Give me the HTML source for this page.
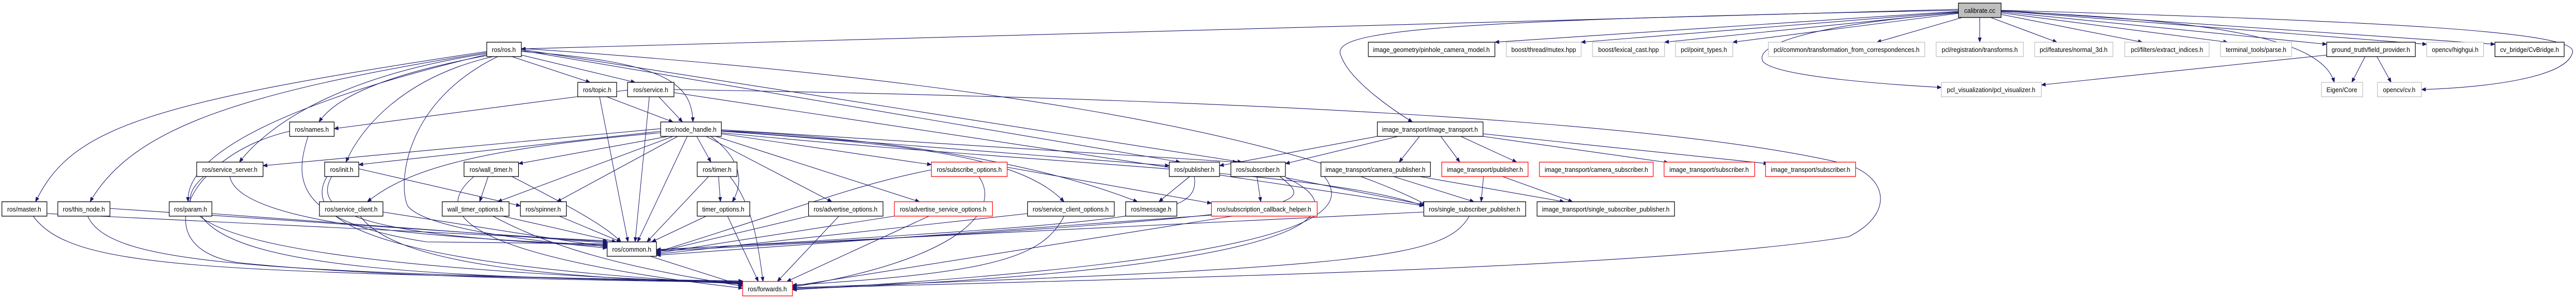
<!DOCTYPE html>
<html><head><meta charset="utf-8"><style>
html,body{margin:0;padding:0;background:#fff;overflow:hidden;width:100%;height:100%;}
svg{display:block;width:100vw;height:100vh;}
text{font-family:"Liberation Sans",sans-serif;font-size:13px;fill:#000;text-anchor:middle;}
.e{fill:none;stroke:#191970;stroke-width:1.1;marker-end:url(#a);}
.b{fill:#fff;stroke:#000;stroke-width:1.3;}
.g{fill:#fff;stroke:#bfbfbf;stroke-width:1.3;}
.r{fill:#fff;stroke:#ff0000;stroke-width:1.3;}
</style></head><body>
<svg viewBox="0 0 5435 581" preserveAspectRatio="none" xmlns="http://www.w3.org/2000/svg">
<defs><marker id="a" markerWidth="10" markerHeight="8" refX="9" refY="4" orient="auto" markerUnits="userSpaceOnUse"><path d="M0,0 L10,4 L0,8 z" fill="#191970"/></marker></defs>
<g>
<path class="e" d="M4132,18 C3000,40 2000,70 1100,95"/>
<path class="e" d="M4132,22 L3154,82"/>
<path class="e" d="M4132,23 L3336,82"/>
<path class="e" d="M4132,24 L3512,82"/>
<path class="e" d="M4132,26 L3656,82"/>
<path class="e" d="M4140,34 L3960,82"/>
<path class="e" d="M4177,34 L4177,82"/>
<path class="e" d="M4200,34 L4340,82"/>
<path class="e" d="M4222,28 L4520,82"/>
<path class="e" d="M4222,25 L4700,82"/>
<path class="e" d="M4222,23 L4909,86"/>
<path class="e" d="M4222,21 L5120,86"/>
<path class="e" d="M4222,20 L5264,86"/>
<path class="e" d="M4132,20 C3000,40 2800,60 2830,110 C2850,160 2950,220 2980,237"/>
<path class="e" d="M4132,25 C3800,50 3700,90 3720,120 C3750,150 4000,165 4096,170"/>
<path class="e" d="M4222,22 C4700,40 4900,80 4925,160"/>
<path class="e" d="M4222,20 C5000,40 5430,60 5428,100 C5420,150 5250,170 5109,174"/>
<path class="e" d="M4909,107 L4307,165"/>
<path class="e" d="M4990,110 L4962,160"/>
<path class="e" d="M5015,110 L5045,160"/>

<path class="e" d="M1027,100 C300,200 150,250 75,392"/>
<path class="e" d="M1027,102 C500,180 280,250 190,392"/>
<path class="e" d="M1027,106 C600,200 390,300 397,392"/>
<path class="e" d="M1027,104 C700,150 560,250 505,315"/>
<path class="e" d="M1027,108 C780,150 700,200 673,237"/>
<path class="e" d="M1040,110 C850,150 760,250 730,315"/>
<path class="e" d="M1050,110 C850,200 840,360 860,400 C900,450 1200,475 1281,482"/>
<path class="e" d="M1080,110 L1245,160"/>
<path class="e" d="M1100,107 L1340,160"/>
<path class="e" d="M1100,100 C1400,120 1460,160 1462,237"/>
<path class="e" d="M1100,98 L2490,315"/>
<path class="e" d="M1100,96 L2620,315"/>
<path class="e" d="M1100,94 C2000,150 2700,250 3010,398"/>
<path class="e" d="M1324,175 L705,250"/>
<path class="e" d="M1390,188 L1440,237"/>
<path class="e" d="M1370,188 L1340,470"/>
<path class="e" d="M1422,174 C2500,190 3500,230 3900,320 C3990,350 3990,420 3900,460 C3500,520 2500,540 1672,560"/>
<path class="e" d="M1422,180 L3004,400"/>
<path class="e" d="M1280,188 L1420,237"/>
<path class="e" d="M1265,188 L1325,470"/>

<path class="e" d="M1394,250 L555,322"/>
<path class="e" d="M1394,255 L757,320"/>
<path class="e" d="M1410,265 L1094,318"/>
<path class="e" d="M1394,258 C1000,290 860,330 775,392"/>
<path class="e" d="M1420,265 L1050,392"/>
<path class="e" d="M1430,265 L1175,392"/>
<path class="e" d="M1450,265 L1345,470"/>
<path class="e" d="M1470,265 L1500,315"/>
<path class="e" d="M1500,265 C1580,320 1560,370 1545,392"/>
<path class="e" d="M1490,265 L1755,392"/>
<path class="e" d="M1510,265 L1940,392"/>
<path class="e" d="M1522,260 L1965,320"/>
<path class="e" d="M1522,255 C1900,280 2150,300 2245,392"/>
<path class="e" d="M1522,254 C1900,270 2200,320 2400,392"/>
<path class="e" d="M1522,254 L2467,322"/>
<path class="e" d="M1522,252 L2610,315"/>
<path class="e" d="M1522,258 C2200,320 2780,330 3004,400"/>

<path class="e" d="M2906,265 L2573,322"/>
<path class="e" d="M2950,265 L2712,318"/>
<path class="e" d="M2995,265 L2952,315"/>
<path class="e" d="M3040,265 L3080,315"/>
<path class="e" d="M3082,265 L3200,315"/>
<path class="e" d="M3129,265 L3520,316"/>
<path class="e" d="M3129,260 L3730,318"/>
<path class="e" d="M2940,343 L3110,392"/>
<path class="e" d="M2995,343 L3300,392"/>
<path class="e" d="M3130,343 L3125,392"/>
<path class="e" d="M3170,343 L3318,392"/>
<path class="e" d="M2712,345 L3004,398"/>
<path class="e" d="M2787,335 C2850,400 2860,500 1672,563"/>
<path class="e" d="M2510,343 L2445,392"/>
<path class="e" d="M2520,343 C2530,420 2450,430 1385,486"/>
<path class="e" d="M2652,343 L2660,392"/>
<path class="e" d="M2700,343 C2780,400 2800,420 1385,488"/>
<path class="e" d="M2712,345 C2850,400 2860,520 1672,562"/>
<path class="e" d="M2125,325 L2556,395"/>
<path class="e" d="M1965,330 C1800,360 1700,400 1385,490"/>
<path class="e" d="M2065,343 C2110,400 2050,500 1672,558"/>
<path class="e" d="M1516,343 L1520,392"/>
<path class="e" d="M1495,343 L1365,470"/>
<path class="e" d="M1540,343 C1590,400 1600,480 1610,547"/>
<path class="e" d="M1490,420 L1375,470"/>
<path class="e" d="M1535,420 L1600,547"/>
<path class="e" d="M1706,420 L1385,490"/>
<path class="e" d="M1770,420 L1640,547"/>
<path class="e" d="M1887,420 L1385,492"/>
<path class="e" d="M1960,420 L1660,547"/>
<path class="e" d="M2168,415 L1385,494"/>
<path class="e" d="M2245,420 C2200,500 2100,530 1672,554"/>
<path class="e" d="M2556,418 L1385,496"/>
<path class="e" d="M2600,420 L1672,556"/>
<path class="e" d="M3004,412 L1385,485"/>
<path class="e" d="M3100,420 C3050,500 2900,520 1672,559"/>
<path class="e" d="M1372,498 L1567,555"/>
<path class="e" d="M1030,343 L1012,392"/>
<path class="e" d="M1080,343 C1200,400 1280,440 1310,470"/>
<path class="e" d="M1000,343 C900,420 1000,500 1567,560"/>
<path class="e" d="M1060,420 L1300,470"/>
<path class="e" d="M1040,420 C1200,500 1400,530 1567,556"/>
<path class="e" d="M1180,420 L1310,470"/>
<path class="e" d="M757,328 L1098,400"/>
<path class="e" d="M700,343 C650,420 800,460 1281,478"/>
<path class="e" d="M690,343 C620,450 900,520 1567,552"/>
<path class="e" d="M808,412 L1281,480"/>
<path class="e" d="M760,420 C840,520 1200,540 1567,551"/>
<path class="e" d="M485,343 C500,420 800,460 1281,476"/>
<path class="e" d="M430,343 C300,450 600,520 1567,550"/>
<path class="e" d="M650,265 C620,350 620,430 900,470 L1281,474"/>
<path class="e" d="M611,255 C400,300 300,480 500,510 C800,540 1300,545 1567,549"/>
<path class="e" d="M447,415 L1281,472"/>
<path class="e" d="M425,420 C500,520 900,540 1567,548"/>
<path class="e" d="M232,405 L1281,470"/>
<path class="e" d="M185,420 C230,510 500,530 1567,547"/>
<path class="e" d="M99,415 L1281,468"/>
<path class="e" d="M70,420 C150,520 400,530 1567,546"/>
</g>
<g>
<rect x="4132" y="6" width="90" height="28" fill="#bfbfbf" stroke="#000" stroke-width="1.3"/><text x="4177" y="25">calibrate.cc</text>
<rect class="b" x="1027" y="82" width="73" height="28"/><text x="1063" y="101">ros/ros.h</text>
<rect class="b" x="2887" y="82" width="267" height="28"/><text x="3020" y="101">image_geometry/pinhole_camera_model.h</text>
<rect class="g" x="3178" y="82" width="158" height="28"/><text x="3257" y="101">boost/thread/mutex.hpp</text>
<rect class="g" x="3360" y="82" width="152" height="28"/><text x="3436" y="101">boost/lexical_cast.hpp</text>
<rect class="g" x="3535" y="82" width="121" height="28"/><text x="3595" y="101">pcl/point_types.h</text>
<rect class="g" x="3731" y="82" width="330" height="28"/><text x="3896" y="101">pcl/common/transformation_from_correspondences.h</text>
<rect class="g" x="4085" y="82" width="184" height="28"/><text x="4177" y="101">pcl/registration/transforms.h</text>
<rect class="g" x="4293" y="82" width="165" height="28"/><text x="4375" y="101">pcl/features/normal_3d.h</text>
<rect class="g" x="4483" y="82" width="178" height="28"/><text x="4572" y="101">pcl/filters/extract_indices.h</text>
<rect class="g" x="4685" y="82" width="150" height="28"/><text x="4760" y="101">terminal_tools/parse.h</text>
<rect class="b" x="4909" y="82" width="187" height="28"/><text x="5002" y="101">ground_truth/field_provider.h</text>
<rect class="g" x="5120" y="82" width="120" height="28"/><text x="5180" y="101">opencv/highgui.h</text>
<rect class="b" x="5264" y="82" width="146" height="28"/><text x="5337" y="101">cv_bridge/CvBridge.h</text>
<rect class="b" x="1219" y="160" width="82" height="28"/><text x="1260" y="179">ros/topic.h</text>
<rect class="b" x="1324" y="160" width="98" height="28"/><text x="1373" y="179">ros/service.h</text>
<rect class="g" x="4096" y="160" width="211" height="28"/><text x="4201" y="179">pcl_visualization/pcl_visualizer.h</text>
<rect class="g" x="4898" y="160" width="87" height="28"/><text x="4941" y="179">Eigen/Core</text>
<rect class="g" x="5016" y="160" width="93" height="28"/><text x="5062" y="179">opencv/cv.h</text>
<rect class="b" x="611" y="237" width="94" height="28"/><text x="658" y="256">ros/names.h</text>
<rect class="b" x="1394" y="237" width="128" height="28"/><text x="1458" y="256">ros/node_handle.h</text>
<rect class="b" x="2906" y="237" width="223" height="28"/><text x="3017" y="256">image_transport/image_transport.h</text>
<rect class="b" x="415" y="315" width="140" height="28"/><text x="485" y="334">ros/service_server.h</text>
<rect class="b" x="685" y="315" width="72" height="28"/><text x="721" y="334">ros/init.h</text>
<rect class="b" x="979" y="315" width="115" height="28"/><text x="1036" y="334">ros/wall_timer.h</text>
<rect class="b" x="1471" y="315" width="84" height="28"/><text x="1513" y="334">ros/timer.h</text>
<rect class="r" x="1965" y="315" width="160" height="28"/><text x="2045" y="334">ros/subscribe_options.h</text>
<rect class="b" x="2467" y="315" width="106" height="28"/><text x="2520" y="334">ros/publisher.h</text>
<rect class="b" x="2597" y="315" width="115" height="28"/><text x="2654" y="334">ros/subscriber.h</text>
<rect class="b" x="2787" y="315" width="231" height="28"/><text x="2902" y="334">image_transport/camera_publisher.h</text>
<rect class="r" x="3042" y="315" width="182" height="28"/><text x="3133" y="334">image_transport/publisher.h</text>
<rect class="r" x="3248" y="315" width="240" height="28"/><text x="3368" y="334">image_transport/camera_subscriber.h</text>
<rect class="r" x="3511" y="315" width="191" height="28"/><text x="3606" y="334">image_transport/subscriber.h</text>
<rect class="r" x="3725" y="315" width="190" height="28"/><text x="3820" y="334">image_transport/subscriber.h</text>
<rect class="b" x="4" y="392" width="95" height="28"/><text x="51" y="411">ros/master.h</text>
<rect class="b" x="122" y="392" width="110" height="28"/><text x="177" y="411">ros/this_node.h</text>
<rect class="b" x="357" y="392" width="90" height="28"/><text x="402" y="411">ros/param.h</text>
<rect class="b" x="674" y="392" width="134" height="28"/><text x="741" y="411">ros/service_client.h</text>
<rect class="b" x="933" y="392" width="141" height="28"/><text x="1003" y="411">wall_timer_options.h</text>
<rect class="b" x="1098" y="392" width="97" height="28"/><text x="1146" y="411">ros/spinner.h</text>
<rect class="b" x="1471" y="392" width="111" height="28"/><text x="1526" y="411">timer_options.h</text>
<rect class="b" x="1706" y="392" width="157" height="28"/><text x="1784" y="411">ros/advertise_options.h</text>
<rect class="r" x="1887" y="392" width="207" height="28"/><text x="1990" y="411">ros/advertise_service_options.h</text>
<rect class="b" x="2168" y="392" width="183" height="28"/><text x="2259" y="411">ros/service_client_options.h</text>
<rect class="b" x="2375" y="392" width="108" height="28"/><text x="2429" y="411">ros/message.h</text>
<rect class="r" x="2556" y="392" width="223" height="28"/><text x="2667" y="411">ros/subscription_callback_helper.h</text>
<rect class="b" x="3004" y="392" width="215" height="28"/><text x="3111" y="411">ros/single_subscriber_publisher.h</text>
<rect class="b" x="3243" y="392" width="290" height="28"/><text x="3388" y="411">image_transport/single_subscriber_publisher.h</text>
<rect class="b" x="1281" y="470" width="104" height="28"/><text x="1333" y="489">ros/common.h</text>
<rect class="r" x="1567" y="547" width="105" height="28"/><text x="1619" y="566">ros/forwards.h</text>
</g>
</svg>
</body></html>
